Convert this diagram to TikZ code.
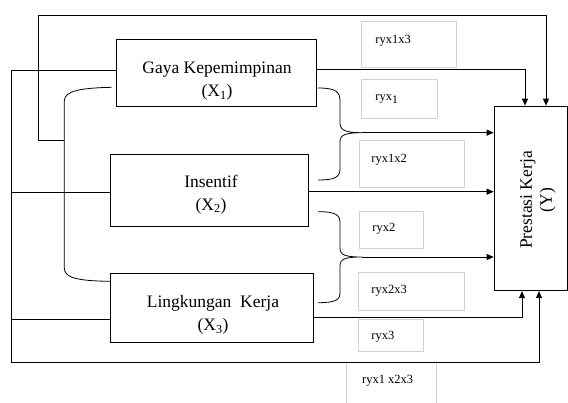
\documentclass[tikz,border=0pt]{standalone}
\usepackage{fontspec}
\setmainfont{Liberation Serif}
\usetikzlibrary{arrows.meta}
\begin{document}
\begin{tikzpicture}[x=1pt,y=-1pt, line width=0.8pt,
  varbox/.style={draw, rectangle, inner sep=0pt},
  vartext/.style={inner sep=0pt, align=center, font=\fontsize{17.5}{23}\selectfont},
  lbox/.style={draw=gray!35, line width=0.6pt, rectangle, inner sep=0pt},
  ltext/.style={anchor=base west, inner sep=0pt, font=\fontsize{12.5}{15}\selectfont},
  arr/.style={-{Triangle[length=7pt,width=6pt]}}]
\useasboundingbox (0,0) rectangle (568,403);

% label boxes
\node[lbox, minimum width=94.5pt, minimum height=46.5pt] (b13) at (408.9,44.3) {};
\node[lbox, minimum width=75.6pt, minimum height=39pt] (b1) at (399.5,98.8) {};
\node[lbox, minimum width=105pt, minimum height=47pt] (b12) at (411.5,163.5) {};
\node[lbox, minimum width=64pt, minimum height=37pt] (b2) at (391,229.5) {};
\node[lbox, minimum width=106pt, minimum height=38pt] (b23) at (411,291) {};
\node[lbox, minimum width=65pt, minimum height=32pt] (b3) at (390.5,335) {};
\node[lbox, minimum width=90pt, minimum height=44pt] (b123) at (391.7,384) {};

\node[ltext] (t13) at (375,43.3) {ryx1x3};
\node[ltext] (t1) at (375,101) {ryx\raisebox{-2.5pt}{\fontsize{11.5}{13}\selectfont 1}};
\node[ltext] (t12) at (371,162.5) {ryx1x2};
\node[ltext] (t2) at (372,231.7) {ryx2};
\node[ltext] (t23) at (371,294) {ryx2x3};
\node[ltext] (t3) at (371,340) {ryx3};
\node[ltext] (t123) at (361.7,383.3) {ryx1 x2x3};

% variable boxes
\node[varbox, minimum width=200.6pt, minimum height=67.7pt] (x1) at (216.3,72.9) {};
\node[varbox, minimum width=197.8pt, minimum height=72pt] (x2) at (209.7,190) {};
\node[varbox, minimum width=202.9pt, minimum height=69pt] (x3) at (212.2,307.5) {};
\node[varbox, minimum width=73.3pt, minimum height=184.7pt] (y) at (530.7,198.4) {};

\node[vartext] (x1t) at (217,81.1) {Gaya Kepemimpinan\\(X\textsubscript{1})};
\node[vartext] (x2t) at (211,194.3) {Insentif\\(X\textsubscript{2})};
\node[vartext] (x3t) at (213,315.1) {Lingkungan\ \ Kerja\\(X\textsubscript{3})};
\node[vartext, rotate=90, font=\fontsize{17.5}{20}\selectfont] (yt) at (538,200) {Prestasi Kerja\\(Y)};

% outer connectors
\draw[arr] (64.3,140.7) -- (38.5,140.7) -- (38.5,15) -- (546,15) -- (546,0 |- y.north);
\draw[arr] (x1.west |- 0,70.7) -- (11.7,70.7) -- (11.7,362) -- (539,362) -- (539,0 |- y.south);
\draw (11.7,192) -- (x2.west |- 0,192);
\draw (11.7,319) -- (x3.west |- 0,319);

% direct connectors
\draw[arr] (x1.east |- 0,69) -- (525,69) -- (525,0 |- y.north);
\draw[arr] (x2.east |- 0,191.7) -- (y.west |- 0,191.7);
\draw[arr] (x3.east |- 0,317) -- (522,317) -- (522,0 |- y.south);

% braces
\coordinate (j1) at (362,132.7);
\coordinate (j2) at (362,257);
\draw (318,88) .. controls (336,88) and (340,92) .. (340,101) -- (340,123)
  .. controls (340,130) and (345,132.7) .. (j1)
  .. controls (345,132.7) and (340,135) .. (340,142) -- (340,169)
  .. controls (340,177) and (335,180) .. (318,180);
\draw[arr] (j1) -- (y.west |- j1);
\draw (318,211.7) .. controls (336,211.7) and (340,215) .. (340,223) -- (340,248)
  .. controls (340,255) and (345,257) .. (j2)
  .. controls (345,257) and (340,259) .. (340,266) -- (340,293)
  .. controls (340,300) and (335,302.7) .. (318,302.7);
\draw[arr] (j2) -- (y.west |- j2);
\draw (111.7,87.3) .. controls (80,88) and (64.3,91) .. (64.3,101) -- (64.3,268)
  .. controls (64.3,277) and (75,281) .. (110.5,281.3);
\end{tikzpicture}
\end{document}
